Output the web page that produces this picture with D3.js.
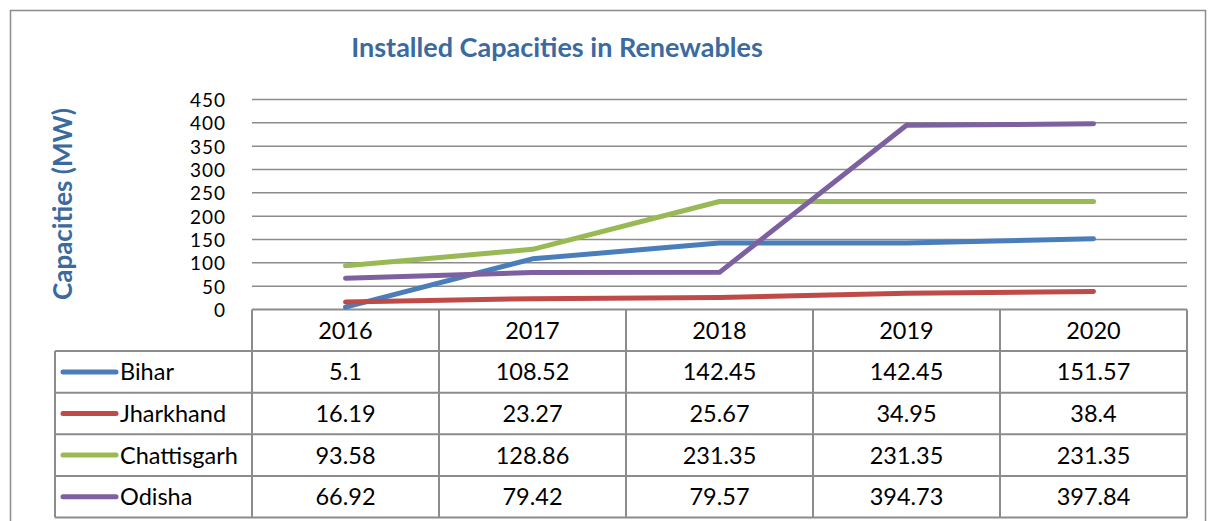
<!DOCTYPE html>
<html>
<head>
<meta charset="utf-8">
<script src="https://cdn.jsdelivr.net/npm/d3@7"></script>
<style>
  body { margin: 0; background: #fff; }
  text { font-family: Lato, "Open Sans", sans-serif; }
</style>
</head>
<body>
<div id="chart"></div>
<script>
// chart data
var years = ["2016", "2017", "2018", "2019", "2020"];
var seriesNames = ["Bihar", "Jharkhand", "Chattisgarh", "Odisha"];
var bihar = [5.1, 108.52, 142.45, 142.45, 151.57];
var jharkhand = [16.19, 23.27, 25.67, 34.95, 38.4];
var chattisgarh = [93.58, 128.86, 231.35, 231.35, 231.35];
var odisha = [66.92, 79.42, 79.57, 394.73, 397.84];
var yTicks = [0, 50, 100, 150, 200, 250, 300, 350, 400, 450];

var seriesValues = [bihar, jharkhand, chattisgarh, odisha];
var colors = ["#4A7EBB", "#BE4B48", "#98B954", "#7D60A0"];

var width = 1208, height = 521;
var plotLeft = 252, plotRight = 1187, plotTop = 99.5, plotBottom = 309.5;
var rowH = 41.6, legendLeft = 55;
var cellFont = "23.5px";

var svg = d3.select("#chart").append("svg")
    .attr("width", width)
    .attr("height", height);

// outer chart border
svg.append("rect")
    .attr("x", 10.5).attr("y", 10.5)
    .attr("width", 1195).attr("height", 530)
    .attr("fill", "none")
    .attr("stroke", "#8c8c8c")
    .attr("stroke-width", 1.5);

var x = d3.scaleBand().domain(years).range([plotLeft, plotRight]);
var y = d3.scaleLinear().domain([0, 450]).range([plotBottom, plotTop]);

// gridlines
svg.append("g")
    .selectAll("line")
    .data(yTicks.filter(function(d) { return d > 0; }))
    .enter().append("line")
    .attr("x1", plotLeft).attr("x2", plotRight)
    .attr("y1", function(d) { return y(d); })
    .attr("y2", function(d) { return y(d); })
    .attr("stroke", "#8c8c8c")
    .attr("stroke-width", 1.5);

// y axis labels (tight spacing, kept small enough not to collide)
var yAxis = d3.axisLeft(y).tickValues(yTicks).tickSize(0).tickPadding(0);
var yg = svg.append("g")
    .attr("transform", "translate(226,0)")
    .call(yAxis);
yg.select(".domain").remove();
yg.selectAll("text")
    .style("font-family", "Lato, 'Open Sans', sans-serif")
    .style("font-size", "19px")
    .style("letter-spacing", "1px")
    .attr("fill", "#000")
    .attr("dy", "0.36em");

// axis title
svg.append("text")
    .attr("transform", "translate(72,204) rotate(-90)")
    .attr("text-anchor", "middle")
    .style("font-size", "26px")
    .style("font-weight", "bold")
    .attr("fill", "#3B6AA0")
    .text("Capacities (MW)");

// chart title
svg.append("text")
    .attr("x", 557).attr("y", 57)
    .attr("text-anchor", "middle")
    .style("font-size", "27px")
    .style("font-weight", "bold")
    .attr("fill", "#3B6AA0")
    .text("Installed Capacities in Renewables");

// data table grid
var table = svg.append("g");
var tableBottom = plotBottom + rowH * 5;
var gridColor = "#8c8c8c";

// header row
table.append("line")
    .attr("x1", plotLeft).attr("x2", plotRight)
    .attr("y1", plotBottom).attr("y2", plotBottom)
    .attr("stroke", gridColor).attr("stroke-width", 2);
// row lines
for (var r = 1; r <= 5; r++) {
    table.append("line")
        .attr("x1", legendLeft).attr("x2", plotRight)
        .attr("y1", plotBottom + rowH * r).attr("y2", plotBottom + rowH * r)
        .attr("stroke", gridColor).attr("stroke-width", 2);
}
// column lines
var colEdges = years.map(function(d) { return x(d); }).concat([plotRight]);
colEdges.forEach(function(cx) {
    table.append("line")
        .attr("x1", cx).attr("x2", cx)
        .attr("y1", plotBottom).attr("y2", tableBottom)
        .attr("stroke", gridColor).attr("stroke-width", 2);
});
table.append("line")
    .attr("x1", legendLeft).attr("x2", legendLeft)
    .attr("y1", plotBottom + rowH).attr("y2", tableBottom)
    .attr("stroke", gridColor).attr("stroke-width", 2);

// header labels
table.selectAll(".yr").data(years).enter().append("text")
    .attr("class", "yr")
    .attr("x", function(d) { return x(d) + x.bandwidth() / 2; })
    .attr("y", plotBottom + rowH / 2)
    .attr("dy", "0.36em")
    .attr("text-anchor", "middle")
    .style("font-size", cellFont)
    .text(function(d) { return d; });

// rows: legend key + values
seriesNames.forEach(function(name, i) {
    var cy = plotBottom + rowH * (i + 1) + rowH / 2;
    table.append("line")
        .attr("x1", 63).attr("x2", 116)
        .attr("y1", cy).attr("y2", cy)
        .attr("stroke", colors[i])
        .attr("stroke-width", 5)
        .attr("stroke-linecap", "round");
    table.append("text")
        .attr("x", 120).attr("y", cy)
        .attr("dy", "0.36em")
        .style("font-size", cellFont)
        .text(name);
    table.selectAll(".v" + i).data(seriesValues[i]).enter().append("text")
        .attr("class", "v" + i)
        .attr("x", function(d, j) { return x(years[j]) + x.bandwidth() / 2; })
        .attr("y", cy)
        .attr("dy", "0.36em")
        .attr("text-anchor", "middle")
        .style("font-size", cellFont)
        .text(function(d) { return d; });
});

// lines
var line = d3.line()
    .x(function(d, j) { return x(years[j]) + x.bandwidth() / 2; })
    .y(function(d) { return y(d); });

svg.append("g")
    .selectAll("path")
    .data(seriesValues)
    .enter().append("path")
    .attr("d", line)
    .attr("fill", "none")
    .attr("stroke", function(d, i) { return colors[i]; })
    .attr("stroke-width", 5)
    .attr("stroke-linecap", "round")
    .attr("stroke-linejoin", "round");
</script>
</body>
</html>
